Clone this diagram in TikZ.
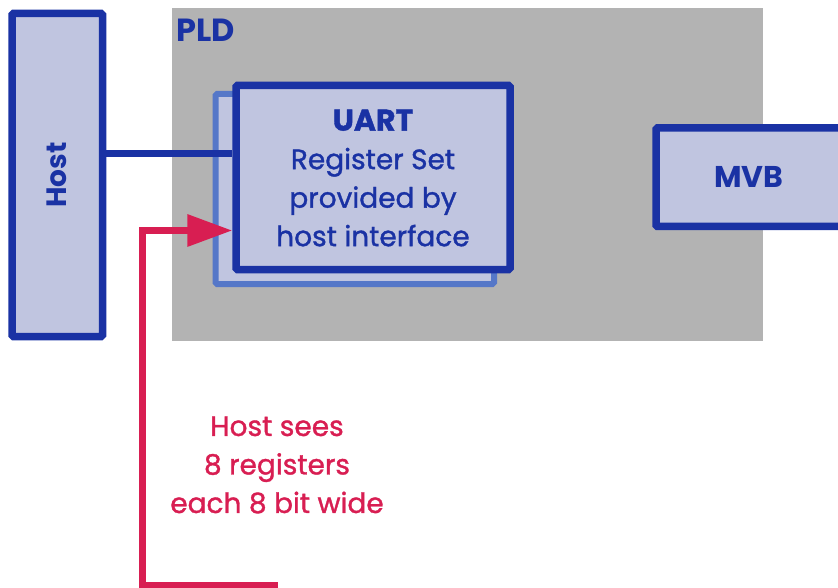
\documentclass[tikz,border=0pt]{standalone}
\usepackage{fontspec}
\setmainfont{Poppins}
\newfontfamily\labelfont[FakeBold=1.2]{Poppins}
\usetikzlibrary{arrows.meta}
\definecolor{ink}{HTML}{1A32A4}
\definecolor{boxfill}{HTML}{C0C5E0}
\definecolor{shadow}{HTML}{5577C8}
\definecolor{pldgrey}{HTML}{B3B3B3}
\definecolor{hostred}{HTML}{D81E52}
\tikzset{
  block/.style={draw=ink, fill=boxfill, line width=7.5pt, rounded corners=1.5pt, inner sep=0pt},
  label/.style={text=ink, font=\labelfont\fontsize{28}{38.5}\selectfont, align=center},
  boldlabel/.style={text=ink, font=\fontsize{30}{38}\selectfont\bfseries},
  bus/.style={draw=ink, line width=7pt},
  access/.style={draw=hostred, line width=6.5pt},
}
\begin{document}
\begin{tikzpicture}[x=1pt,y=-1pt]
  \useasboundingbox (0,0) rectangle (838,588);
  % programmable logic device area
  \fill[pldgrey] (172,8) rectangle (763,341);
  \node[boldlabel, font=\fontsize{32}{38}\selectfont\bfseries, anchor=north west, inner sep=0pt] (pld) at (176,19) {PLD};
  % host
  \node[block, minimum width=90.5pt, minimum height=323pt] (host) at (57.25,175) {};
  \node[boldlabel, font=\fontsize{28}{38}\selectfont\bfseries, rotate=90] (hostlabel) at (host.center) {Host};
  % UART register set (stacked)
  \node[draw=shadow, fill=boxfill, line width=6pt, rounded corners=1.5pt,
        minimum width=278.5pt, minimum height=190pt] (uartback) at (354.75,189) {};
  \node[block, minimum width=274pt, minimum height=184pt] (uart) at (373,177.5) {};
  \node[label] (uarttext) at (373,178)
    {{\fontsize{30}{38.5}\selectfont\bfseries UART}\\Register Set\\provided by\\host interface};
  % MVB
  \node[block, minimum width=186pt, minimum height=98.5pt] (mvb) at (749,177.25) {};
  \node[boldlabel] (mvblabel) at (mvb.center) {MVB};
  % host bus into the UART
  \draw[bus] (host.east |- 0,153.5) -- (uart.west |- 0,153.5);
  % host access path
  \coordinate (pathbottom) at (278,585);
  \coordinate (pathcorner) at (142.5,585);
  \coordinate (pathtop) at (142.5,230.5);
  \draw[access, line join=miter, -{Triangle[length=45pt,width=31pt]}]
    (pathbottom) -- (pathcorner) -- (pathtop) -- (uart.west |- 0,230.5);
  \node[label, text=hostred] (sees) at (277,465)
    {Host sees\\8 registers\\each 8 bit wide};
\end{tikzpicture}
\end{document}
